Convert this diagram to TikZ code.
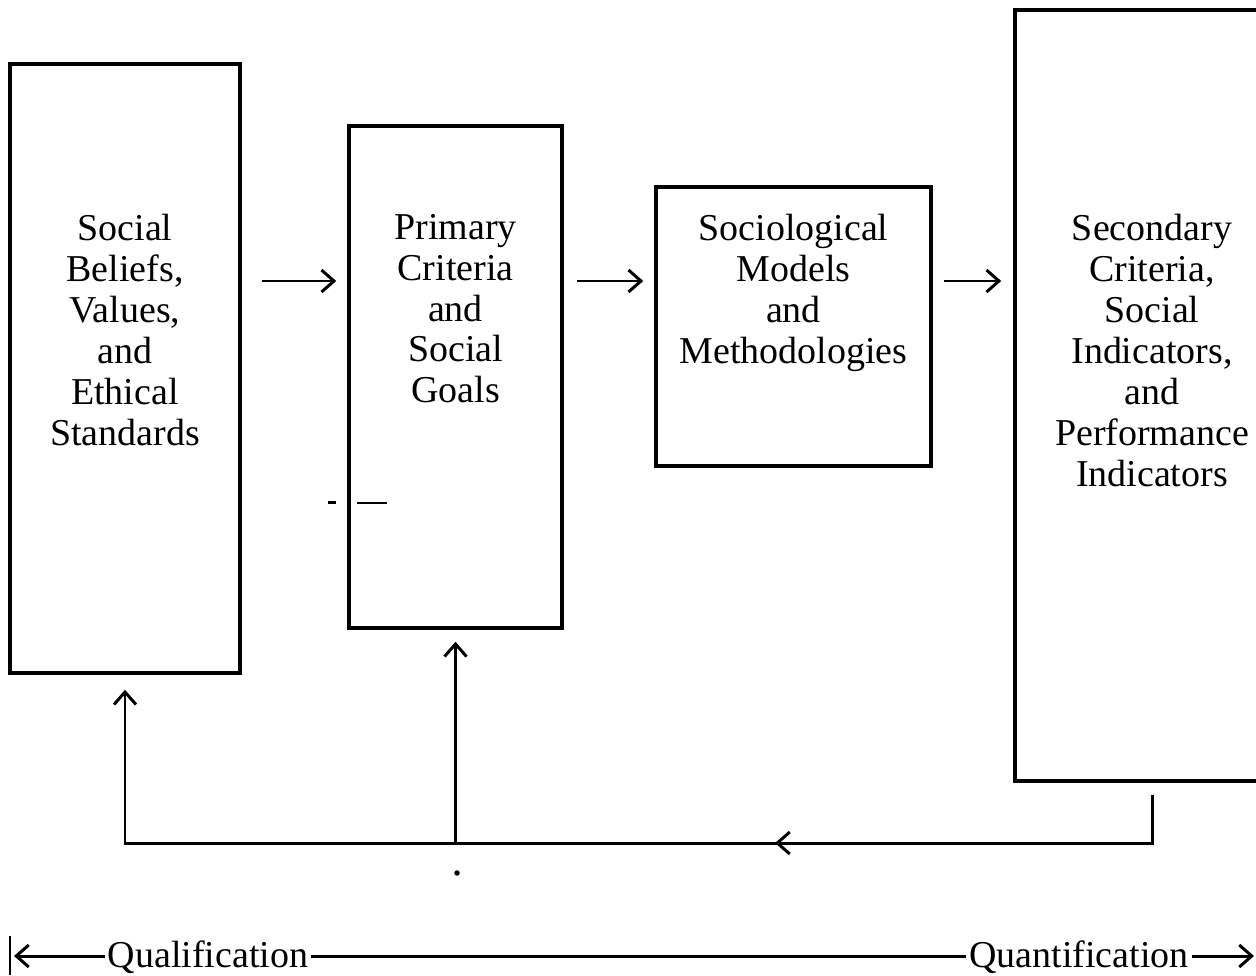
\documentclass[tikz,border=0pt]{standalone}
\usepackage{fontspec}
\setmainfont{Liberation Serif}
\usetikzlibrary{arrows.meta}

\begin{document}
\begin{tikzpicture}[font=\fontsize{21.6}{23.3}\selectfont,line width=1.7pt,>={Straight Barb[length=2.5mm,width=4.4mm]}]
\tikzstyle{stage box}=[draw,line width=2pt,inner sep=0]
\tikzstyle{stage text}=[anchor=north,align=center,inner sep=0]
\tikzstyle{flow}=[->,line width=1.7pt]
\tikzstyle{scale text}=[anchor=base,inner sep=1pt]

\useasboundingbox (0,0) rectangle (25.12,19.5);
\clip (0,0) rectangle (25.12,19.5);

% stages
\node(beliefs)[stage box,minimum width=4.6cm,minimum height=12.18cm] at (2.5,12.13) {};
\node(primary)[stage box,minimum width=4.26cm,minimum height=10.04cm] at (9.11,11.96) {};
\node(models)[stage box,minimum width=5.5cm,minimum height=5.58cm] at (15.87,12.97) {};
\node(secondary)[stage box,minimum width=5.48cm,minimum height=15.42cm] at (23.04,11.59) {};

\coordinate (top line) at (0,15.25);
\node(beliefs text)[stage text] at (beliefs |- top line) {Social\\Beliefs,\\Values,\\and\\Ethical\\Standards};
\node(primary text)[stage text] at (primary |- top line) {Primary\\Criteria\\and\\Social\\Goals};
\node(models text)[stage text] at (models |- top line) {Sociological\\Models\\and\\Methodologies};
\node(secondary text)[stage text] at (secondary |- top line) {Secondary\\Criteria,\\Social\\Indicators,\\and\\Performance\\Indicators};

% forward arrows
\coordinate (row) at (0,13.88);
\draw[flow,shorten <=0.4cm,shorten >=0.22cm] (beliefs.east |- row) -- (primary.west |- row);
\draw[flow,shorten <=0.26cm,shorten >=0.22cm] (primary.east |- row) -- (models.west |- row);
\draw[flow,shorten <=0.22cm,shorten >=0.24cm] (models.east |- row) -- (secondary.west |- row);

% feedback loop
\coordinate (fb) at (0,2.64);
\coordinate (fb mid) at (15.5,2.64);
\draw[flow,shorten <=0.24cm,shorten >=0.3cm] (secondary.south) |- (beliefs.south |- fb) -- (beliefs.south);
\draw[flow] (secondary.south |- fb) -- (fb mid);
\draw[flow,shorten >=0.24cm] (primary.south |- fb) -- (primary.south);

% stray marks
\node(dot)[circle,fill,inner sep=0,minimum size=0.11cm] at (9.14,2.04) {};
\draw[line width=1.3pt] (6.56,9.45) -- (6.72,9.45);
\draw[line width=1.3pt] (7.14,9.44) -- (7.74,9.44);

% qualification / quantification scale
\draw (0.2,0) -- (0.2,0.78);
\node(qual)[scale text] at (4.16,0.16) {Qualification};
\node(quan)[scale text] at (21.58,0.16) {Quantification};
\coordinate (scale left) at (0.28,0.38);
\coordinate (scale right) at (25.08,0.38);
\draw[flow] (qual.west |- scale left) -- (scale left);
\draw (qual.east |- scale left) -- (quan.west |- scale left);
\draw[flow] (quan.east |- scale left) -- (scale right);

\end{tikzpicture}
\end{document}
